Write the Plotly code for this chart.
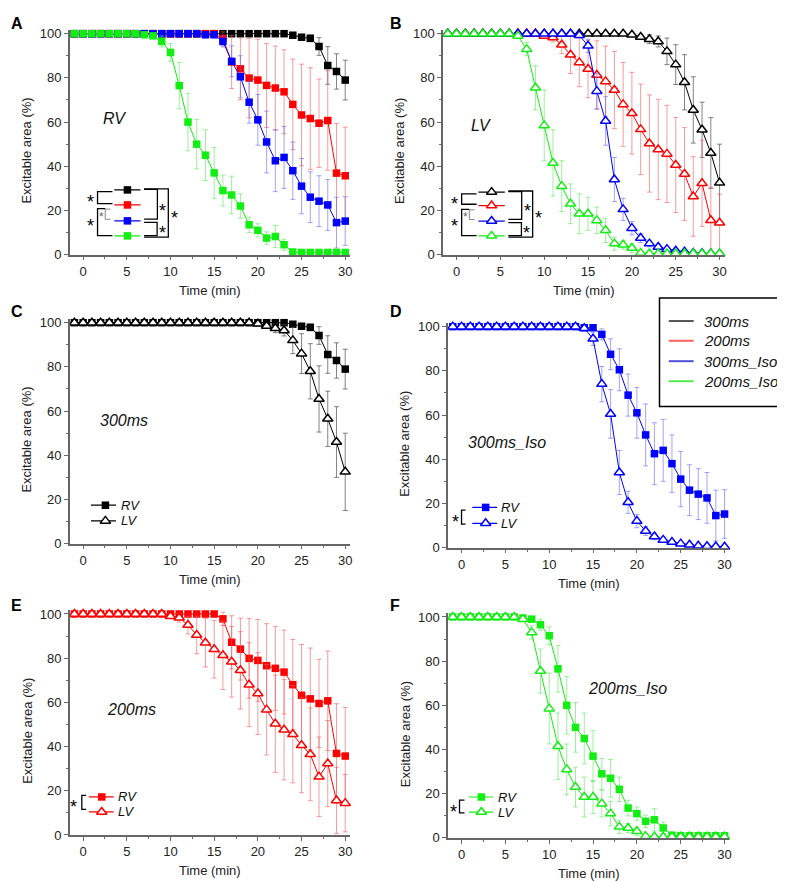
import plotly.graph_objects as go

# ---------------- data ----------------
time_min = list(range(-1, 31))
x_ticks = [0, 5, 10, 15, 20, 25, 30]
y_ticks = [0, 20, 40, 60, 80, 100]
groups = ["300ms", "200ms", "300ms_Iso", "200ms_Iso"]

rv_300 = [100, 100, 100, 100, 100, 100, 100, 100,
          100, 100, 100, 100, 100, 100, 100, 100,
          100, 100, 100, 100, 100, 100, 100, 100,
          100, 99.3, 98.4, 97.9, 94.2, 85.6, 82.9, 79.0]
sd_rv_300 = [0, 0, 0, 0, 0, 0, 0, 0,
             0, 0, 0, 0, 0, 0, 0, 0,
             0, 0, 0, 0, 0, 0, 0, 0,
             0, 0.8, 1.2, 1.5, 4, 8.5, 8, 9]
lv_300 = [100, 100, 100, 100, 100, 100, 100, 100,
          100, 100, 100, 100, 100, 100, 100, 100,
          100, 100, 100, 100, 100, 99.5, 98.5, 97.5,
          96.5, 92, 86, 78, 65.5, 56.5, 46, 32.5]
sd_lv_300 = [0, 0, 0, 0, 0, 0, 0, 0,
             0, 0, 0, 0, 0, 0, 0, 0,
             0, 0, 0, 0, 0, 0.5, 1, 2,
             2.5, 6, 9, 12.5, 15, 12.5, 16, 17.5]

rv_200 = [100, 100, 100, 100, 100, 100, 100, 100,
          100, 100, 100, 100, 100, 100, 100, 100,
          100, 97.8, 87.2, 84.1, 79.9, 79.0, 76.6, 75.4,
          73.7, 68.0, 63.2, 61.6, 59.5, 60.7, 36.9, 35.7]
sd_rv_200 = [0, 0, 0, 0, 0, 0, 0, 0,
             0, 0, 0, 0, 0, 0, 0, 0,
             0, 3, 12, 14, 18, 18.5, 19, 19,
             19, 20.5, 23, 23, 20, 22.5, 22.5, 22]
lv_200 = [100, 100, 100, 100, 100, 100, 100, 100,
          100, 100, 100, 99, 98.3, 95, 90.5, 87,
          84, 81.3, 78.4, 74.5, 68, 64, 56.7, 50.3,
          47.6, 45.6, 40.6, 36.5, 26.3, 32.3, 15.6, 14.4]
sd_lv_200 = [0, 0, 0, 0, 0, 0, 0, 0,
             0, 0, 0, 1, 2, 4, 8.5, 11,
             13, 15.5, 16, 17.5, 19, 18.5, 20.5, 22,
             22.7, 22, 21.5, 21, 18, 19.5, 15, 13]

rv_300iso = [100, 100, 100, 100, 100, 100, 100, 100,
             100, 100, 100, 100, 100, 100, 100, 99.5,
             99.5, 96.5, 87.5, 80.5, 69, 61, 51, 42.5,
             44, 38, 31, 26, 24.2, 22.5, 14.5, 15.2]
sd_rv_300iso = [0, 0, 0, 0, 0, 0, 0, 0,
                0, 0, 0, 0, 0, 0, 0, 0.5,
                0.5, 2.5, 7, 9.5, 9.5, 11.5, 14, 14,
                14, 13, 12.5, 11.5, 11.5, 11.5, 11.5, 11]
lv_300iso = [100, 100, 100, 100, 100, 100, 100, 100,
             100, 100, 100, 100, 100, 100, 100, 99.3,
             94.5, 74, 60.5, 34, 20.5, 12, 7.5, 5,
             3.5, 2.5, 1.8, 1.3, 0.8, 0.6, 0.5, 0.4]
sd_lv_300iso = [0, 0, 0, 0, 0, 0, 0, 0,
                0, 0, 0, 0, 0, 0, 0, 0.7,
                3, 8, 11, 10, 5, 3, 2, 1.5,
                1.2, 1, 1, 0.8, 0.5, 0.5, 0.5, 0.5]

rv_200iso = [100, 100, 100, 100, 100, 100, 100, 100,
             99.5, 99, 96.5, 91.5, 76.5, 60, 50, 45,
             37, 29, 27, 22, 13.5, 11, 7.5, 8.2,
             4.5, 1.2, 1, 1, 1, 1, 1, 1]
sd_rv_200iso = [0, 0, 0, 0, 0, 0, 0, 0,
                0.5, 1, 2.5, 4, 10.5, 13, 11.2, 11.5,
                11.5, 7, 8.5, 5.5, 3.5, 3, 2.8, 5,
                2.5, 0.5, 0.5, 0.5, 0.5, 0.5, 0.5, 0.5]
lv_200iso = [100, 100, 100, 100, 100, 100, 100, 100,
             99, 93, 75.5, 58.5, 41.5, 31, 23, 18.5,
             18.5, 15.5, 11, 5, 4.5, 3, 0.8, 0.5,
             0.5, 0.5, 0.5, 0.5, 0.5, 0.5, 0.5, 0.5]
sd_lv_200iso = [0, 0, 0, 0, 0, 0, 0, 0,
                0.5, 3, 10, 16, 15, 11.5, 9, 9,
                7.5, 6, 5.5, 3, 2, 2, 0.5, 0.3,
                0.3, 0.3, 0.3, 0.3, 0.3, 0.3, 0.3, 0.3]

RV = {"300ms": (rv_300, sd_rv_300), "200ms": (rv_200, sd_rv_200),
      "300ms_Iso": (rv_300iso, sd_rv_300iso), "200ms_Iso": (rv_200iso, sd_rv_200iso)}
LV = {"300ms": (lv_300, sd_lv_300), "200ms": (lv_200, sd_lv_200),
      "300ms_Iso": (lv_300iso, sd_lv_300iso), "200ms_Iso": (lv_200iso, sd_lv_200iso)}

# ---------------- styles ----------------
FONT = "Liberation Sans, Arial, sans-serif"
COL = {"300ms": "#000000", "200ms": "#ff0000", "300ms_Iso": "#0000ff", "200ms_Iso": "#11ee11"}
ERRCOL = {"300ms": "rgba(90,90,90,0.75)", "200ms": "rgba(240,90,90,0.6)",
          "300ms_Iso": "rgba(90,90,240,0.55)", "200ms_Iso": "rgba(90,230,90,0.6)"}
LEGCOL = {"300ms": "#555555", "200ms": "#ff6060", "300ms_Iso": "#5050d8", "200ms_Iso": "#50ee50"}
AXCOL = "#666666"
XR = [-1.53, 30.51]
YR = [0, 101.6]

# panel: letter, axis suffix, x domain, y domain
panels = [
    ("A", "", [0.07898, 0.43694], [0.72109, 0.97914]),
    ("B", "2", [0.55643, 0.91567], [0.72109, 0.97914]),
    ("C", "3", [0.07898, 0.43694], [0.38889, 0.64694]),
    ("D", "4", [0.56280, 0.92204], [0.38435, 0.64240]),
    ("E", "5", [0.07898, 0.43694], [0.05408, 0.31213]),
    ("F", "6", [0.56280, 0.92204], [0.05068, 0.30873]),
]
letter_pos = {"A": (1, 12), "B": (381, 12), "C": (1, 304), "D": (381, 304), "E": (1, 602), "F": (381, 602)}

fig = go.Figure()
shapes = []
annos = []


def marker_for(kind, color):
    if kind == "RV":
        return dict(symbol="square", size=7.5, color=color, line=dict(width=0))
    return dict(symbol="triangle-up", size=9, color="white", line=dict(color=color, width=1.5))


def add_series(group, kind, sfx):
    y, sd = (RV if kind == "RV" else LV)[group]
    fig.add_trace(go.Scatter(
        x=time_min, y=y, mode="lines+markers", name=f"{group} {kind}",
        xaxis="x" + sfx, yaxis="y" + sfx, showlegend=False, cliponaxis=False,
        line=dict(color=COL[group], width=1),
        marker=marker_for(kind, COL[group]),
        error_y=dict(type="data", array=sd, visible=True, color=ERRCOL[group], thickness=1, width=2.5),
    ))


def xref(sfx):
    return "x" + sfx


def yref(sfx):
    return "y" + sfx


def seg(sfx, x1, y1, x2, y2, color="black", width=1.3):
    shapes.append(dict(type="line", xref=xref(sfx), yref=yref(sfx), x0=x1, y0=y1, x1=x2, y1=y2,
                       line=dict(color=color, width=width), layer="below"))


def bracket(sfx, xin, xv, ya, yb, color="black", width=1.3, xin2=None):
    if xin2 is None:
        xin2 = xin
    shapes.append(dict(type="path", xref=xref(sfx), yref=yref(sfx),
                       path=f"M {xin},{ya} L {xv},{ya} L {xv},{yb} L {xin2},{yb}",
                       line=dict(color=color, width=width)))


def star(sfx, x, y, size=18, color="black"):
    annos.append(dict(text="*", x=x, y=y, xref=xref(sfx), yref=yref(sfx), showarrow=False,
                      font=dict(size=size, color=color, family=FONT), yshift=-size * 0.27))


def text(sfx, x, y, s, size=16, anchor="center"):
    annos.append(dict(text=f"<i>{s}</i>", x=x, y=y, xref=xref(sfx), yref=yref(sfx), showarrow=False,
                      xanchor=anchor, font=dict(size=size, color="#111", family=FONT)))


# Panels A and B: all four groups
for sfx, kind in (("", "RV"), ("2", "LV")):
    for g in groups:
        add_series(g, kind, sfx)

# Panels C-F: RV vs LV for one group
pair_panels = [("3", "300ms"), ("5", "200ms"), ("4", "300ms_Iso"), ("6", "200ms_Iso")]
for sfx, g in pair_panels:
    add_series(g, "RV", sfx)
    add_series(g, "LV", sfx)

# ---------------- in-plot legends of A and B ----------------
ab_legend = {"": (5.07, [29.3, 22.5, 15.3, 8.5], "RV"), "2": (4.0, [28.3, 22.2, 15.2, 8.5], "LV")}
for sfx, (x0, rows, kind) in ab_legend.items():
    for g, yy in zip(groups, rows):
        seg(sfx, x0 - 1.5, yy, x0 + 1.5, yy, color=COL[g], width=1.2)
        fig.add_trace(go.Scatter(x=[x0], y=[yy], mode="markers", xaxis="x" + sfx, yaxis="y" + sfx,
                                 showlegend=False, hoverinfo="skip", cliponaxis=False,
                                 marker=marker_for(kind, COL[g])))
    # left brackets
    bracket(sfx, x0 - 1.71, x0 - 3.42, rows[0] - 0.8, rows[1] + 0.6)
    star(sfx, x0 - 4.18, (rows[0] + rows[1]) / 2)
    bracket(sfx, x0 - 1.93, x0 - 2.54, rows[1] - 1.9, rows[2] + 0.7, color="#888", width=1.0)
    star(sfx, x0 - 2.96, 18.3, size=12, color="#666")
    bracket(sfx, x0 - 2.54, x0 - 3.42, rows[1] - 1.7, rows[3] + 0.1, xin2=x0 - 1.71)
    star(sfx, x0 - 4.18, 15)
    # right brackets
    bracket(sfx, x0 + 1.91, x0 + 3.43, rows[0] + 0.2, rows[2] + 0.8)
    star(sfx, x0 + 4.05, 22)
    bracket(sfx, x0 + 1.91, x0 + 3.40, rows[2] - 0.7, rows[3] + 0.1)
    star(sfx, x0 + 4.02, 11.9)
    bracket(sfx, x0 + 1.91, x0 + 4.68, rows[0] + 0.5, rows[3] - 0.6)
    star(sfx, x0 + 5.35, 18.6)

# ---------------- RV/LV legends of C-F ----------------
# sfx: (line x start, line x end, marker x, text x, RV row, LV row, bracket)
pair_legend = {
    "3": (0.9, 3.76, 2.55, 4.15, 17.4, 10.3, None),
    "4": (1.23, 4.06, 2.75, 4.22, 18.2, 11.0, (0.0, 0.45, 17.0, 10.6, -0.68, 13.6)),
    "5": (0.65, 3.5, 2.13, 3.76, 17.2, 10.4, (-0.15, 0.34, 17.9, 11.6, -1.06, 14.9)),
    "6": (0.85, 3.6, 2.26, 3.98, 18.5, 11.7, (-0.23, 0.34, 17.1, 11.3, -0.92, 14.1)),
}
for sfx, g in pair_panels:
    xa, xb, xm, xt, yr, yl, br = pair_legend[sfx]
    for kind, yy in (("RV", yr), ("LV", yl)):
        seg(sfx, xa, yy, xb, yy, color=COL[g], width=1.2)
        fig.add_trace(go.Scatter(x=[xm], y=[yy], mode="markers", xaxis="x" + sfx, yaxis="y" + sfx,
                                 showlegend=False, hoverinfo="skip", cliponaxis=False,
                                 marker=marker_for(kind, COL[g])))
        text(sfx, xt, yy, kind, size=13, anchor="left")
    if br:
        bx, bin_, by1, by2, sx, sy = br
        bracket(sfx, bin_, bx, by1, by2)
        star(sfx, sx, sy)

# ---------------- inner panel titles ----------------
inner = [("", 3.56, 61.5, "RV"), ("2", 2.8, 58.3, "LV"), ("3", 4.72, 55.7, "300ms"),
         ("4", 5.24, 47.5, "300ms_Iso"), ("5", 5.52, 56.7, "200ms"), ("6", 18.9, 67.5, "200ms_Iso")]
for sfx, x, y, s in inner:
    text(sfx, x, y, s, size=16)

# ---------------- axes ----------------
layout_axes = {}
for letter, sfx, dx, dy in panels:
    layout_axes["xaxis" + sfx] = dict(
        domain=dx, range=XR, anchor="y" + sfx, showline=True, linecolor=AXCOL, linewidth=1.5,
        ticks="outside", ticklen=4, tickwidth=1, tickcolor=AXCOL, tickmode="array", tickvals=x_ticks,
        showgrid=False, zeroline=False, tickfont=dict(size=13, color="#222", family=FONT),
        minor=dict(ticks="outside", ticklen=2.5, tickwidth=1, tickcolor=AXCOL, dtick=2.5, tick0=0, showgrid=False),
    )
    layout_axes["yaxis" + sfx] = dict(
        domain=dy, range=YR, anchor="x" + sfx, showline=True, linecolor=AXCOL, linewidth=1.5,
        ticks="outside", ticklen=4, tickwidth=1, tickcolor=AXCOL, tickmode="array", tickvals=y_ticks,
        showgrid=False, zeroline=False, tickfont=dict(size=13, color="#222", family=FONT),
        minor=dict(ticks="outside", ticklen=2.5, tickwidth=1, tickcolor=AXCOL, dtick=10, tick0=0, showgrid=False),
    )
    annos.append(dict(text="Time (min)", xref=f"x{sfx} domain", yref=f"y{sfx} domain", x=0.5, y=0,
                      yshift=-36, showarrow=False, yanchor="middle",
                      font=dict(size=13, color="#222", family=FONT)))
    annos.append(dict(text="Excitable area (%)", xref=f"x{sfx} domain", yref="y" + sfx, x=0, y=47,
                      xshift=-43, showarrow=False, textangle=-90, xanchor="center", yanchor="middle",
                      font=dict(size=13, color="#222", family=FONT)))
    lx, ly = letter_pos[letter]
    annos.append(dict(text=f"<b>{letter}</b>", xref="paper", yref="paper", x=lx / 785, y=1 - ly / 882,
                      xanchor="left", yanchor="middle", showarrow=False,
                      font=dict(size=16, color="black", family=FONT)))

# ---------------- group legend box (panel D) ----------------
shapes.append(dict(type="rect", xref="paper", yref="paper", x0=654 / 785, x1=784 / 785,
                   y0=1 - 400 / 882, y1=1 - 290 / 882, line=dict(color="black", width=1.5),
                   fillcolor="white", layer="above"))
legend_rows = [313.3, 333.3, 354.0, 374.3]
for g, ry in zip(groups, legend_rows):
    shapes.append(dict(type="line", xref="paper", yref="paper", x0=663.3 / 785, x1=688.3 / 785,
                       y0=1 - ry / 882, y1=1 - ry / 882, line=dict(color=LEGCOL[g], width=2), layer="above"))
    annos.append(dict(text=f"<i>{g}</i>", xref="paper", yref="paper", x=696.7 / 785, y=1 - ry / 882,
                      xanchor="left", yanchor="middle", showarrow=False,
                      font=dict(size=15, color="#111", family=FONT)))

fig.update_layout(
    width=785, height=882, margin=dict(l=0, r=0, t=0, b=0),
    paper_bgcolor="white", plot_bgcolor="white", showlegend=False,
    font=dict(family=FONT, color="#222"),
    shapes=shapes, annotations=annos, **layout_axes,
)

fig.write_html("out.html")
